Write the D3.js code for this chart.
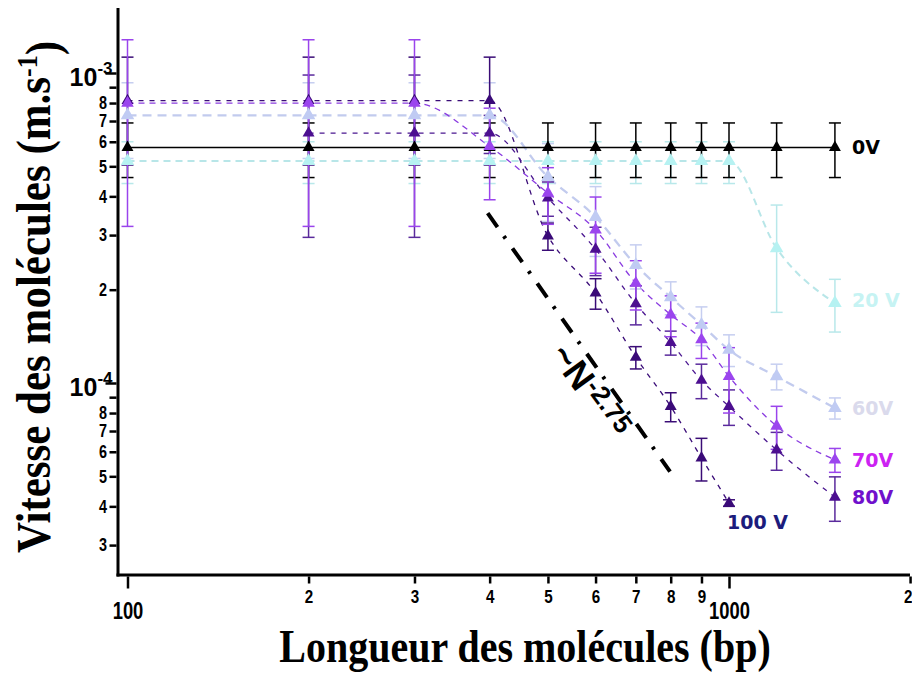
<!DOCTYPE html>
<html>
<head>
<meta charset="utf-8">
<script src="https://cdn.jsdelivr.net/npm/d3@7"></script>
<style>
  body { margin: 0; background: #ffffff; }
  svg { display: block; }
  .tick text { font-family: "Liberation Sans", Arial, sans-serif; font-weight: bold; fill: #000; }
  .axis-title { font-family: "Liberation Serif", "Times New Roman", serif; font-weight: bold; fill: #000; }
  .serie-label { font-family: "DejaVu Sans", Verdana, sans-serif; font-weight: bold; }
</style>
</head>
<body>
<svg id="chart" width="912" height="673"></svg>
<script>
// longueurs (bp)
const lengths = [100, 200, 300, 400, 500, 600, 700, 800, 900, 1000, 1200, 1500];

// vitesses (m/s) et erreurs pour chaque tension
const v0V   = [5.75e-4, 5.75e-4, 5.75e-4, 5.75e-4, 5.75e-4, 5.75e-4, 5.75e-4, 5.75e-4, 5.75e-4, 5.75e-4, 5.75e-4, 5.75e-4];
const e0V   = [1.15e-4, 1.15e-4, 1.15e-4, 1.15e-4, 1.15e-4, 1.15e-4, 1.15e-4, 1.15e-4, 1.15e-4, 1.15e-4, 1.15e-4, 1.15e-4];
const v20V  = [5.2e-4, 5.2e-4, 5.2e-4, 5.2e-4, 5.2e-4, 5.2e-4, 5.2e-4, 5.2e-4, 5.2e-4, 5.2e-4, 2.72e-4, 1.81e-4];
const e20V  = [0.8e-4, 0.8e-4, 0.8e-4, 0.8e-4, 0.8e-4, 0.8e-4, 0.8e-4, 0.8e-4, 0.8e-4, 0.8e-4, 1.03e-4, 0.35e-4];
const v60V  = [7.3e-4, 7.3e-4, 7.3e-4, 7.3e-4, 4.62e-4, 3.43e-4, 2.4e-4, 1.89e-4, 1.54e-4, 1.28e-4, 1.05e-4, 8.3e-5];
const e60V  = [2.0e-4, 2.0e-4, 2.0e-4, 2.0e-4, 1.3e-4, 0.87e-4, 0.39e-4, 0.23e-4, 0.22e-4, 0.15e-4, 0.1e-4, 0.65e-5];
const v70V  = [8.0e-4, 8.0e-4, 8.0e-4, 5.8e-4, 4.1e-4, 3.12e-4, 2.1e-4, 1.66e-4, 1.38e-4, 1.05e-4, 7.26e-5, 5.65e-5];
const e70V  = [4.8e-4, 4.8e-4, 4.8e-4, 1.9e-4, 0.85e-4, 0.86e-4, 0.38e-4, 0.25e-4, 0.18e-4, 0.25e-4, 1.15e-5, 0.5e-5];
const v80V  = [null, 6.4e-4, 6.4e-4, 6.4e-4, 3.95e-4, 2.7e-4, 1.8e-4, 1.35e-4, 1.02e-4, 8.4e-5, 6.08e-5, 4.28e-5];
const e80V  = [null, 3.45e-4, 3.45e-4, 0.9e-4, 0.5e-4, 0.48e-4, 0.26e-4, 0.12e-4, 0.13e-4, 1.1e-5, 0.85e-5, 0.7e-5];
const v100V = [8.15e-4, 8.15e-4, 8.15e-4, 8.15e-4, 2.98e-4, 1.95e-4, 1.21e-4, 8.4e-5, 5.73e-5, 4.1e-5, null, null];
const e100V = [3.1e-4, 3.1e-4, 3.1e-4, 3.1e-4, 0.3e-4, 0.22e-4, 0.1e-4, 0.9e-5, 0.9e-5, 0.1e-5, null, null];

// graduations
const xMinorTicks = [200, 300, 400, 500, 600, 700, 800, 900, 2000];
const xMajorTicks = [100, 1000];
const yMinorTicks = [9e-4, 8e-4, 7e-4, 6e-4, 5e-4, 4e-4, 3e-4, 2e-4, 9e-5, 8e-5, 7e-5, 6e-5, 5e-5, 4e-5, 3e-5];
const yMajorTicks = [1e-3, 1e-4];

// loi de puissance ~N^-2.75
const fitN = [397, 798];
const fitExp = -2.75;
const fitV0 = 3.53e-4;

const series = [
  { name: "20 V", v: v20V, e: e20V, color: "#b6f2f2", bar: "#b8e8ea", line: "#b8e6e8", width: 2, dash: "7 5", size: 80 },
  { name: "60V", v: v60V, e: e60V, color: "#c0cbf3", bar: "#c6cef0", line: "#c2cbee", width: 2.3, dash: "9 6", size: 80 },
  { name: "0V", v: v0V, e: e0V, color: "#000000", bar: "#000000", line: "#000000", width: 1.5, dash: null, size: 62 },
  { name: "100 V", v: v100V, e: e100V, color: "#3a0a78", bar: "#3a0c76", line: "#3a0c78", width: 1.3, dash: "5 6", size: 62 },
  { name: "80V", v: v80V, e: e80V, color: "#4c0f90", bar: "#5a2a9c", line: "#4a1690", width: 1.3, dash: "5 6", size: 62 },
  { name: "70V", v: v70V, e: e70V, color: "#9b45ee", bar: "#9a44ec", line: "#8a3be0", width: 1.3, dash: "6 5", size: 68 }
];

const svg = d3.select("#chart");
svg.append("rect").attr("width", 912).attr("height", 673).attr("fill", "#fff");

const x = d3.scaleLog().domain([100, 1000]).range([127.5, 729]);
const y = d3.scaleLog().domain([1e-3, 1e-4]).range([73, 383]);

const axisX0 = 118, axisY0 = 575;

// --- axes ---
svg.append("line")
  .attr("x1", axisX0).attr("x2", axisX0).attr("y1", 8).attr("y2", axisY0 + 1.5)
  .attr("stroke", "#000").attr("stroke-width", 3);
svg.append("line")
  .attr("x1", axisX0 - 1.5).attr("x2", 910).attr("y1", axisY0).attr("y2", axisY0)
  .attr("stroke", "#000").attr("stroke-width", 3);

const minorLabelX = d => (d === 2000 ? "2" : String(Math.round(d / 100)));
const gxMinor = svg.append("g")
  .attr("transform", `translate(0,${axisY0 + 1.5})`)
  .call(d3.axisBottom(x).tickValues(xMinorTicks).tickSize(7).tickPadding(6).tickFormat(minorLabelX));
const gxMajor = svg.append("g")
  .attr("transform", `translate(0,${axisY0 + 1.5})`)
  .call(d3.axisBottom(x).tickValues(xMajorTicks).tickSize(12).tickPadding(14).tickFormat(d3.format("d")));
[gxMinor, gxMajor].forEach(g => {
  g.select(".domain").remove();
  g.selectAll(".tick line").attr("stroke-width", 2.5);
  g.selectAll(".tick text").attr("transform", "scale(0.8,1)");
});
gxMinor.selectAll(".tick text").style("font-size", "19px");
// le dernier "2" est au bord de l'image
gxMinor.selectAll(".tick").filter(d => d === 2000).select("text").attr("x", -3);
gxMajor.selectAll(".tick text").style("font-size", "23px");

const minorLabelY = d => {
  const m = Math.round(d / Math.pow(10, Math.floor(Math.log10(d) + 1e-9)));
  return m === 9 ? "" : String(m);
};
const gyMinor = svg.append("g")
  .attr("transform", `translate(${axisX0 - 1.5},0)`)
  .call(d3.axisLeft(y).tickValues(yMinorTicks).tickSize(7).tickPadding(5).tickFormat(minorLabelY));
const gyMajor = svg.append("g")
  .attr("transform", `translate(${axisX0 - 1.5},0)`)
  .call(d3.axisLeft(y).tickValues(yMajorTicks).tickSize(11).tickPadding(3).tickFormat(""));
[gyMinor, gyMajor].forEach(g => {
  g.select(".domain").remove();
  g.selectAll(".tick line").attr("stroke-width", 2.5);
});
gyMinor.selectAll(".tick text").style("font-size", "18px").attr("transform", "scale(0.8,1)");
gyMajor.selectAll(".tick").each(function(d) {
  const t = d3.select(this).select("text")
    .style("font-size", "25px").attr("x", -4).attr("dy", "0.5em");
  t.append("tspan").text("10");
  t.append("tspan").attr("dy", "-0.7em").style("font-size", "17px").text("-" + Math.round(-Math.log10(d)));
});

// --- titres ---
svg.append("text")
  .attr("class", "axis-title")
  .attr("transform", "translate(525,662) scale(1,1.15)")
  .attr("text-anchor", "middle")
  .style("font-size", "40px")
  .text("Longueur des molécules (bp)");

const yTitle = svg.append("text")
  .attr("class", "axis-title")
  .attr("transform", "translate(50,297) rotate(-90) scale(1,1.15)")
  .attr("text-anchor", "middle")
  .style("font-size", "43px");
yTitle.append("tspan").text("Vitesse des molécules (m.s");
yTitle.append("tspan").attr("dy", "-0.45em").style("font-size", "26px").text("-1");
yTitle.append("tspan").attr("dy", "0.45em").text(")");

// --- droite de pente -2.75 ---
const fitLine = d3.line()
  .x(d => x(d))
  .y(d => y(fitV0 * Math.pow(d / fitN[0], fitExp)));
svg.append("path")
  .attr("d", fitLine(fitN))
  .attr("fill", "none")
  .attr("stroke", "#000")
  .attr("stroke-width", 4)
  .attr("stroke-dasharray", "17 11 3 12");

const ann = svg.append("text")
  .attr("transform", "translate(549,355) rotate(54)")
  .style("font-family", "'Liberation Sans', Arial, sans-serif")
  .style("font-weight", "bold")
  .style("font-size", "36px");
ann.append("tspan").text("~N");
ann.append("tspan").attr("dy", "-0.38em").style("font-size", "26px").text("-2.75");

// --- séries ---
const line = d3.line()
  .defined(d => d.v != null)
  .x(d => x(d.n))
  .y(d => y(d.v))
  .curve(d3.curveMonotoneX);

const pts = s => lengths.map((n, i) => ({ n: n, v: s.v[i], e: s.e[i] }));

series.forEach(s => {
  svg.append("path")
    .datum(pts(s))
    .attr("d", line)
    .attr("fill", "none")
    .attr("stroke", s.line)
    .attr("stroke-width", s.width)
    .attr("stroke-dasharray", s.dash);
});

series.forEach(s => {
  const g = svg.append("g");
  const data = pts(s).filter(d => d.v != null);
  data.forEach(d => {
    const top = y(d.v + d.e), bot = y(Math.max(d.v - d.e, 1e-7));
    const cx = x(d.n);
    g.append("line").attr("x1", cx).attr("x2", cx).attr("y1", top).attr("y2", bot)
      .attr("stroke", s.bar).attr("stroke-width", 1.5);
    [top, bot].forEach(yy => {
      g.append("line").attr("x1", cx - 6).attr("x2", cx + 6).attr("y1", yy).attr("y2", yy)
        .attr("stroke", s.bar).attr("stroke-width", 1.5);
    });
  });
});

series.forEach(s => {
  svg.append("g").selectAll("path")
    .data(pts(s).filter(d => d.v != null))
    .join("path")
    .attr("transform", d => `translate(${x(d.n)},${y(d.v)})`)
    .attr("d", d3.symbol(d3.symbolTriangle, s.size))
    .attr("fill", s.color);
});

// --- étiquettes des séries ---
const labels = [
  { text: "0V", x: 852, y: 147, color: "#000000" },
  { text: "20 V", x: 852, y: 300, color: "#c6f3f3" },
  { text: "60V", x: 852, y: 408, color: "#dadaec" },
  { text: "70V", x: 852, y: 460, color: "#cc22f2" },
  { text: "80V", x: 852, y: 497, color: "#7010cc" },
  { text: "100 V", x: 727, y: 522, color: "#1c1c7c" }
];
svg.selectAll(".serie-label")
  .data(labels)
  .join("text")
  .attr("class", "serie-label")
  .attr("x", d => d.x).attr("y", d => d.y)
  .attr("dy", "0.36em")
  .style("font-size", "19px")
  .attr("fill", d => d.color)
  .text(d => d.text);
</script>
</body>
</html>
